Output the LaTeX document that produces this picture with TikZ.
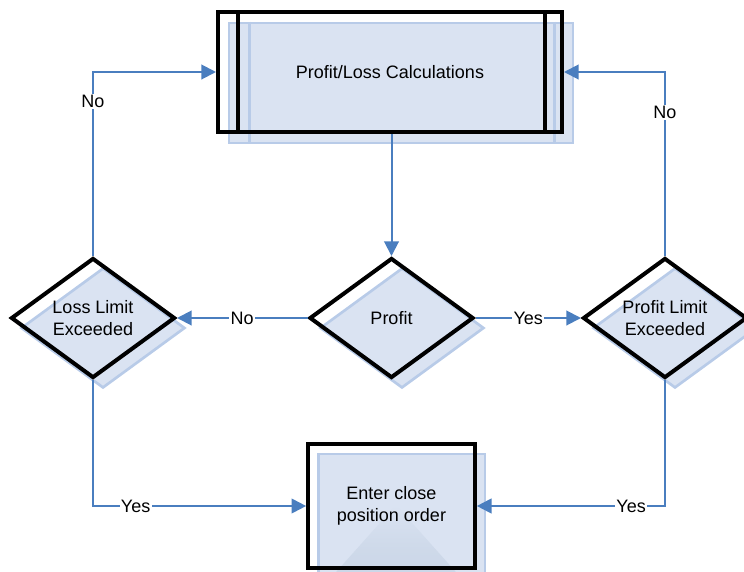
\documentclass[tikz,border=0pt]{standalone}
\usepackage{fontspec}
\setmainfont{Liberation Sans}
\usetikzlibrary{shapes.geometric,arrows.meta,calc}
\definecolor{conn}{HTML}{4A7EBF}
\definecolor{shfill}{HTML}{DAE3F2}
\definecolor{shdraw}{HTML}{B8CBE8}
\definecolor{tri}{HTML}{C9D5E6}
\tikzset{
  x=0.75pt, y=-0.75pt,
  every node/.style={font=\fontsize{13.5}{16}\selectfont},
  boxmain/.style={draw=black, line width=3pt, rectangle, inner sep=0pt, align=center},
  boxshad/.style={draw=shdraw, fill=shfill, line width=2pt, rectangle, inner sep=0pt},
  dmain/.style={draw=black, line width=3pt, diamond, inner sep=0pt, align=center, minimum width=123pt, minimum height=90pt},
  dshad/.style={draw=shdraw, fill=shfill, line width=2pt, diamond, inner sep=0pt, minimum width=123pt, minimum height=90pt},
  conn/.style={draw=conn, line width=1.5pt, -{Triangle[length=11pt,width=11pt]}},
  lab/.style={fill=white, inner sep=1pt}
}
\begin{document}
\begin{tikzpicture}
\useasboundingbox (0,0) rectangle (744,572);
% shadows
\node[boxshad, minimum width=258pt, minimum height=90pt] (topS) at (401,83) {};
\draw[shdraw, line width=2pt] ($(topS.north west)+(22,0)$) -- ($(topS.south west)+(22,0)$);
\draw[shdraw, line width=2pt] ($(topS.north east)+(-20,0)$) -- ($(topS.south east)+(-20,0)$);
\node[dshad] (lossS) at (103,328) {};
\node[dshad] (profS) at (402,328) {};
\node[dshad] (plimS) at (675,328) {};
\node[boxshad, minimum width=125pt, minimum height=93pt] (botS) at (401.5,516) {};
\shade[top color=shfill, bottom color=tri, middle color=tri!70!shfill] (396,505) -- (472,590) -- (320,590) -- cycle;
% main shapes
\node[boxmain, minimum width=258pt, minimum height=90pt] (top) at (390,72) {Profit/Loss Calculations};
\draw[black, line width=3pt] ($(top.north west)+(22,0)$) -- ($(top.south west)+(22,0)$);
\draw[black, line width=3pt] ($(top.north east)+(-19,0)$) -- ($(top.south east)+(-19,0)$);
\node[dmain] (loss) at (93,318) {Loss Limit\\Exceeded};
\node[dmain] (prof) at (391.5,318) {Profit};
\node[dmain] (plim) at (665,318) {Profit Limit\\Exceeded};
\node[boxmain, minimum width=125pt, minimum height=93pt] (bot) at (391.5,506) {Enter close\\position order};
% connectors
\draw[conn] (top.south -| prof.north) -- (prof.north);
\draw[conn] (prof.west) -- node[lab] {No} (loss.east);
\draw[conn] (prof.east) -- node[lab] {Yes} (plim.west);
\draw[conn] (loss.north) |- node[lab, pos=0.42] {No} (top.west);
\draw[conn] (plim.north) |- node[lab, pos=0.39] {No} (top.east);
\draw[conn] (loss.south) |- node[lab, pos=0.6] {Yes} (bot.west);
\draw[conn] (plim.south) |- node[lab, pos=0.59] {Yes} (bot.east);
\end{tikzpicture}
\end{document}
